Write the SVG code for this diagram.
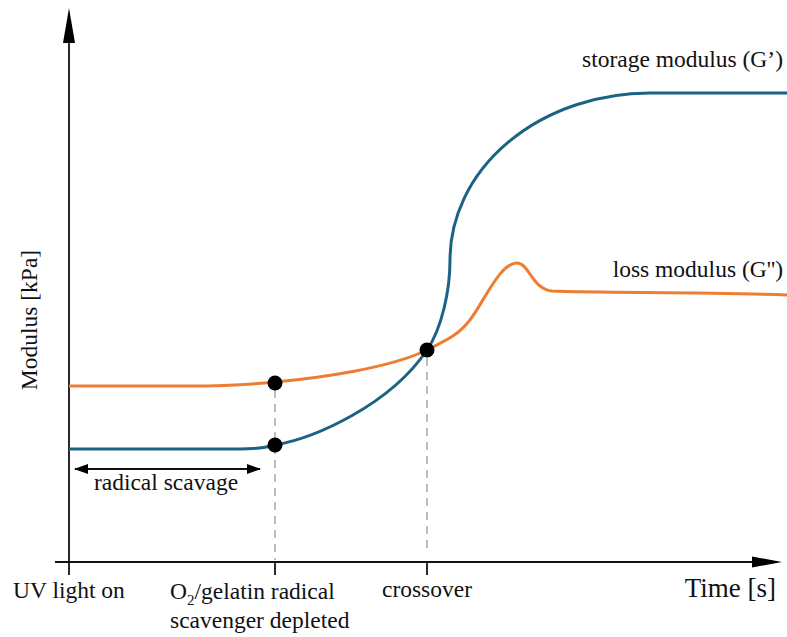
<svg xmlns="http://www.w3.org/2000/svg" width="787" height="637" viewBox="0 0 787 637">
<style>
text{font-family:"Liberation Serif","Times New Roman",serif;fill:#111;font-size:23.5px}
.ax{stroke:#111;stroke-width:1.8;fill:none}
.dash{stroke:#bdbdbd;stroke-width:2;stroke-dasharray:8 6;fill:none}
.g1{stroke:#1c6282;stroke-width:3;fill:none}
.g2{stroke:#ed7d31;stroke-width:3;fill:none}
.dot{fill:#000}
</style>
<defs>
<marker id="ah" markerWidth="14" markerHeight="10" refX="13" refY="5" orient="auto-start-reverse" markerUnits="userSpaceOnUse">
<path d="M0,0 L14,5 L0,10 Z" fill="#000"/>
</marker>
</defs>
<g id="axes">
<line class="ax" x1="69" y1="40" x2="69" y2="575"/>
<path d="M69,8 L75,43 L63,43 Z" fill="#000"/>
<line class="ax" x1="55" y1="562" x2="755" y2="562"/>
<path d="M782,562 L752,556.5 L752,567.5 Z" fill="#000"/>
<line class="ax" x1="275" y1="562" x2="275" y2="575"/>
<line class="ax" x1="427" y1="562" x2="427" y2="575"/>
</g>
<g id="guides">
<line class="dash" x1="275" y1="390" x2="275" y2="560"/>
<line class="dash" x1="427" y1="358" x2="427" y2="552"/>
</g>
<g id="connectors">
<path id="loss" class="g2" d="M69,386 L190,386 C230,386 255,384 275,382 C320,378 390,368 427,350 C449,339 458,335 470,320 C485,300 500,263 517,263 C529,263 532,289 552,291 C600,293 700,292 787,295"/>
<path id="storage" class="g1" d="M69,449 L240,449 C258,449 268,447 275,445 C315,438 390,405 427,350 C442,328 450,290 450,260 A200,167 0 0 1 650,93 L787,93"/>
<line class="ax" x1="75" y1="469" x2="260" y2="469" marker-start="url(#ah)" marker-end="url(#ah)"/>
</g>
<g id="points">
<circle class="dot" cx="275" cy="383" r="7.5"/>
<circle class="dot" cx="275" cy="445" r="7.5"/>
<circle class="dot" cx="427" cy="350" r="7.5"/>
</g>
<g id="labels">
<text x="783" y="67" text-anchor="end">storage modulus (G’)</text>
<text x="783" y="277" text-anchor="end">loss modulus (G'')</text>
<text transform="translate(37,320) rotate(-90)" text-anchor="middle">Modulus [kPa]</text>
<text x="166" y="490" text-anchor="middle">radical scavage</text>
<text x="13" y="598">UV light on</text>
<text x="170" y="599">O<tspan style="font-size:15px" dy="6">2</tspan><tspan dy="-6">/gelatin radical</tspan></text>
<text x="170" y="628">scavenger depleted</text>
<text x="427" y="597" text-anchor="middle">crossover</text>
<text x="776" y="597" text-anchor="end" style="font-size:27px">Time [s]</text>
</g>
</svg>
